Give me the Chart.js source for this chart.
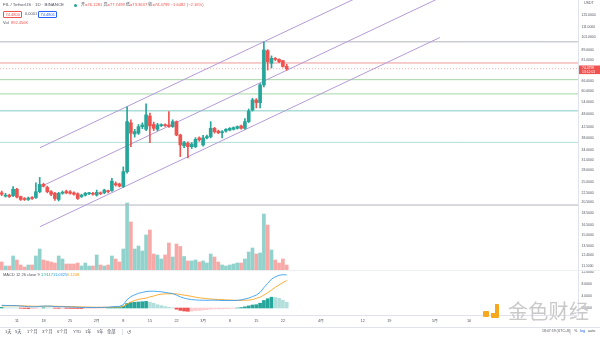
<!DOCTYPE html>
<html>
<head>
<meta charset="utf-8">
<title>FIL / TetherUS 1D</title>
<script src="https://cdn.jsdelivr.net/npm/chart.js@4.4.0/dist/chart.umd.min.js"></script>
<style>
  body { margin:0; width:600px; height:338px; background:#fff; overflow:hidden; position:relative;
         font-family:"Liberation Sans","Noto Sans CJK SC",sans-serif; }
  #pricePane { position:absolute; left:0; top:0; width:600px; height:270px; }
  #macdPane  { position:absolute; left:0; top:270px; width:600px; height:58px; }
  .t { position:absolute; white-space:nowrap; line-height:1; }
  .gray { color:#50535e; }
  .red { color:#ef5350; }
  .box { position:absolute; height:5px; line-height:5px; font-size:4px; padding:0 1.5px; border:0.8px solid; border-radius:1px; }
  .sep { position:absolute; background:#e0e3eb; }
  #wm-text { position:absolute; left:508px; top:300px; font-size:20px; line-height:22px; color:#c9c9c9;
             font-family:"Noto Sans CJK SC",sans-serif; letter-spacing:0.3px; }
  .wm-logo { position:absolute; background:#f5a81c; border-radius:1px; }
</style>
</head>
<body>
<div id="pricePane"><canvas id="priceCanvas"></canvas></div>
<div id="macdPane"><canvas id="macdCanvas"></canvas></div>

<!-- legends -->
<div class="t gray" style="left:3px;top:3px;font-size:4.4px">FIL / TetherUS · 1D · BINANCE</div>
<div style="position:absolute;left:74px;top:3.5px;width:3px;height:3px;border-radius:50%;background:#26a69a"></div>
<div class="t" style="left:81px;top:3px;font-size:4.1px">
  <span class="gray">开</span><span class="red">=76.1281</span>
  <span class="gray">高</span><span class="red">=77.7499</span>
  <span class="gray">低</span><span class="red">=73.3637</span>
  <span class="gray">收</span><span class="red">=74.4799 −1.6482 (−2.16%)</span>
</div>
<div class="box" style="left:3px;top:11px;color:#ef5350;border-color:#ef5350">74.4800</div>
<div class="t gray" style="left:25px;top:12px;font-size:4px">0.0001</div>
<div class="box" style="left:38px;top:11px;color:#2962ff;border-color:#2962ff">74.4801</div>
<div class="t gray" style="left:3px;top:21px;font-size:4px">Vol</div>
<div class="t red" style="left:11px;top:21px;font-size:4px">892.456K</div>
<div class="t gray" style="left:584px;top:2px;font-size:3.6px">USDT</div>

<div class="sep" style="left:0;top:270px;width:600px;height:1px;background:#eceef2"></div>
<div class="t gray" style="left:3px;top:273px;font-size:4px">MACD 12 26 close 9</div>
<div class="t" style="left:41px;top:273px;font-size:4px;color:#26a69a">1.9117</div>
<div class="t" style="left:53px;top:273px;font-size:4px;color:#2196f3">11.0325</div>
<div class="t" style="left:67px;top:273px;font-size:4px;color:#ff9800">9.1208</div>

<!-- bottom toolbar -->
<div class="sep" style="left:0;top:327px;width:600px;height:1px"></div>
<div class="t gray" style="left:5px;top:330px;font-size:4.2px">1天</div>
<div class="t gray" style="left:15px;top:330px;font-size:4.2px">5天</div>
<div class="t gray" style="left:27px;top:330px;font-size:4.2px">1个月</div>
<div class="t gray" style="left:42px;top:330px;font-size:4.2px">3个月</div>
<div class="t gray" style="left:57px;top:330px;font-size:4.2px">6个月</div>
<div class="t gray" style="left:73px;top:330px;font-size:4.2px">YTD</div>
<div class="t gray" style="left:85px;top:330px;font-size:4.2px">1年</div>
<div class="t gray" style="left:97px;top:330px;font-size:4.2px">5年</div>
<div class="t gray" style="left:107px;top:330px;font-size:4.2px">全部</div>
<div class="sep" style="left:122px;top:329px;width:1px;height:6px"></div>
<div class="t gray" style="left:127px;top:329.5px;font-size:5px">↺</div>
<div class="t gray" style="left:542px;top:330px;font-size:3.5px">18:47:59 (UTC+8)</div>
<div class="sep" style="left:570px;top:329px;width:1px;height:6px"></div>
<div class="t gray" style="left:574px;top:330px;font-size:3.8px">%</div>
<div class="t" style="left:580px;top:330px;font-size:3.8px;color:#2962ff">log</div>
<div class="t gray" style="left:588px;top:330px;font-size:3.8px">auto</div>

<!-- watermark -->
<div class="wm-logo" style="left:483px;top:311px;width:6px;height:6px"></div>
<div class="wm-logo" style="left:491px;top:304px;width:8px;height:14px"></div>
<div style="position:absolute;left:491px;top:304px;width:4px;height:9px;background:#fff"></div>
<div id="wm-text">金色财经</div>

<script>
// FIL/USDT daily candles, 7 Jan - 23 Mar (index 0 = 7 Jan)
const opens = [22.5,21.8,22.0,21.9,23.3,21.7,21.3,21.1,21.5,21.5,
  22.75,24.4,23.7,22.75,22.4,21.1,22.4,22.8,22.7,22.5,
  22.3,21.7,22.0,22.3,22.4,22.0,22.5,22.5,22.9,23.0,
  24.6,24.5,23.9,27.6,44.2,39.7,40.0,42.6,41.5,47.2,
  43.5,41.5,43.0,43.4,43.3,42.6,44.7,39.3,35.4,36.3,
  35.1,35.1,38.2,35.7,38.2,38.7,41.9,40.8,40.2,40.8,
  41.2,41.5,41.9,42.9,41.9,44.7,50.0,55.1,53.7,63.7,
  88.6,78.5,82.3,81.5,80.5,76.1281];
const highs = [22.9,22.4,22.2,23.9,23.5,21.8,21.5,21.6,21.7,24.8,
  26.1,24.7,24.0,23.0,22.6,22.6,22.9,23.1,23.0,22.7,
  22.5,22.2,22.6,22.6,22.6,23.1,22.7,23.3,23.1,25.9,
  25.0,24.7,28.9,51.6,45.5,41.5,43.5,44.2,53.1,48.5,
  44.5,44.0,43.8,43.8,49.2,45.5,45.0,39.6,37.0,36.8,
  36.5,38.3,38.6,39.2,39.3,44.7,42.3,41.2,41.0,41.8,
  42.2,42.5,42.9,43.2,46.0,50.5,56.0,55.8,64.5,96.6,
  89.5,84.3,83.0,82.0,80.8,77.7499];
const lows = [21.9,21.6,21.5,21.7,21.4,20.9,20.9,20.9,21.1,21.3,
  22.5,23.8,22.5,21.9,20.9,20.8,22.2,22.3,22.2,22.0,
  21.1,21.5,21.8,22.1,22.0,21.8,22.1,22.3,22.5,22.8,
  24.0,23.8,23.7,27.2,35.1,38.5,39.5,41.8,41.0,36.5,
  41.0,41.0,42.6,42.7,42.3,42.3,39.0,31.9,34.8,31.5,
  34.5,34.8,37.0,35.3,37.8,38.2,40.0,39.8,38.2,40.4,
  40.9,41.2,41.6,41.6,41.6,44.3,49.5,51.0,51.0,62.5,
  73.5,75.0,80.5,79.0,75.5,73.3637];
const closes = [22.2,22.0,21.7,23.3,21.6,21.1,21.1,21.4,21.3,22.75,
  24.4,24.0,22.75,22.2,21.3,22.4,22.6,22.5,22.4,22.2,
  21.3,22.0,22.4,22.4,22.2,22.6,22.3,23.1,22.75,25.2,
  24.3,24.0,27.6,44.7,40.0,40.6,42.6,43.3,47.7,42.9,
  41.9,43.3,43.4,43.0,42.6,44.7,39.3,35.7,36.5,35.1,
  36.0,37.7,37.5,38.2,38.7,41.9,40.6,40.2,40.6,41.5,
  41.9,42.2,42.6,41.9,44.7,49.5,55.1,53.7,63.7,89.2,
  79.7,82.3,81.5,79.7,76.1281,74.4799];
// volume, millions of FIL
const volumes = [1.44,0.72,0.72,2.52,1.80,0.90,0.54,0.90,0.90,2.52,
  3.78,1.80,1.62,1.44,1.26,2.52,1.98,1.08,1.08,1.08,
  1.26,0.72,1.26,0.72,0.72,2.70,0.90,0.72,0.90,2.52,
  1.98,1.44,3.78,12.06,8.64,3.78,4.32,3.42,6.30,7.20,
  2.88,2.70,1.98,2.70,4.86,2.34,4.68,4.23,2.43,1.62,
  1.62,1.80,1.44,1.62,1.26,2.88,2.34,1.44,0.90,0.72,
  0.90,1.08,1.26,1.26,1.98,3.24,3.96,2.88,3.06,10.08,
  8.10,3.60,1.80,1.26,1.98,0.892];
// MACD 12 26 9
const macdLine = [0.9,0.85,0.8,0.8,0.75,0.65,0.55,0.45,0.4,0.4,
  0.55,0.65,0.65,0.6,0.5,0.45,0.42,0.38,0.34,0.3,
  0.25,0.2,0.2,0.18,0.16,0.18,0.18,0.22,0.25,0.4,
  0.5,0.55,1.1,2.8,3.8,4.4,4.9,5.2,5.5,5.6,
  5.6,5.5,5.4,5.2,5.0,4.8,4.3,3.7,3.3,3.0,
  2.8,2.7,2.6,2.6,2.55,2.6,2.6,2.55,2.5,2.5,
  2.5,2.5,2.55,2.7,3.0,3.3,3.8,4.3,5.2,6.8,
  8.2,9.6,10.4,10.9,11.1,11.0325];
const signalLine = [0.7,0.73,0.74,0.75,0.75,0.73,0.7,0.65,0.6,0.56,
  0.56,0.58,0.6,0.6,0.58,0.56,0.53,0.5,0.47,0.44,
  0.4,0.36,0.33,0.3,0.27,0.25,0.24,0.24,0.24,0.27,
  0.32,0.36,0.5,1.3,2.0,2.5,2.9,3.1,3.3,3.7,
  4.0,4.4,4.6,4.7,4.75,4.75,4.7,4.5,4.3,4.1,
  3.85,3.6,3.4,3.25,3.1,3.0,2.9,2.85,2.8,2.7,
  2.65,2.6,2.55,2.55,2.6,2.6,2.8,3.2,3.6,4.3,
  5.1,6.0,6.9,7.7,8.5,9.1208];
const histogram = [0.2,0.12,0.06,0.05,0.0,-0.08,-0.15,-0.2,-0.2,-0.16,
  -0.01,0.07,0.05,0.0,-0.08,-0.11,-0.11,-0.12,-0.13,-0.14,
  -0.15,-0.16,-0.13,-0.12,-0.11,-0.07,-0.06,-0.02,0.01,0.13,
  0.18,0.19,0.6,1.5,1.8,1.9,2.0,2.1,2.2,1.9,
  1.6,1.1,0.8,0.5,0.25,0.05,-0.4,-0.8,-1.0,-1.1,
  -1.05,-0.9,-0.8,-0.65,-0.55,-0.4,-0.3,-0.3,-0.3,-0.2,
  -0.15,-0.1,0.0,0.15,0.4,0.7,1.0,1.1,1.6,2.5,
  3.1,3.6,3.5,3.2,2.6,1.9117];

// drawn horizontal levels
const levels = [96.5, 78.7, 67.0, 58.4, 49.6, 36.6, 20.0];
const levelColors = ['#b2b5be','#ef9a9a','#a5d6a7','#a5d6a7','#80cbc4','#b2dfdb','#b2b5be'];
// parallel channel: [startDay, startPrice, endDay, endPrice]
const channel = [
  [10.08, 34.76, 115.3, 215.6],
  [10.08, 23.8, 115.3, 147.5],
  [10.08, 16.23, 115.3, 100.6]
];

const priceTicks = [125,111,101,89,81,66,60,54,48,42.5,38,34,31,28,25,22.5,20.5,18.5,16.5,15,13.5,12.4,11.1];
const macdTicks = [0,4,8,12];
const dateTickDays = [4,11,18,25,32,39,46,53,60,67,74,84,95,102,114,123];
const dateTickLabels = ['11','18','25','2月','8','15','22','3月','8','15','22','4月','12','19','5月','10'];
const countdown = '13:12:01';

const UP = '#26a69a', DOWN = '#ef5350';
const xMin = -0.4474, xMax = 151.66;
const FONT = '"Liberation Sans","Noto Sans CJK SC",sans-serif';
Chart.defaults.font.family = FONT;

const candleColors = closes.map((c, i) => c >= opens[i] ? UP : DOWN);
const volColors = closes.map((c, i) => c >= opens[i] ? 'rgba(38,166,154,0.5)' : 'rgba(239,83,80,0.5)');
const histColors = histogram.map((h, i) => {
  const prev = i > 0 ? histogram[i - 1] : h;
  if (h >= 0) return h >= prev ? '#26a69a' : '#b2dfdb';
  return h < prev ? '#ef5350' : '#ffcdd2';
});

const fixedWidth = ax => { ax.width = 22; ax.paddingTop = 0; ax.paddingBottom = 0; };

const lastPriceTag = {
  id: 'lastPriceTag',
  afterDraw(chart) {
    const last = closes[closes.length - 1];
    const y = chart.scales.y.getPixelForValue(last);
    const left = chart.chartArea.right + 1;
    const ctx = chart.ctx;
    ctx.save();
    ctx.fillStyle = DOWN;
    ctx.fillRect(left, y - 3.2, chart.width - left, 8.6);
    ctx.fillStyle = '#fff';
    ctx.font = '3.4px ' + FONT;
    ctx.textBaseline = 'middle';
    ctx.fillText(last.toFixed(4), left + 3, y - 0.3);
    ctx.fillText(countdown, left + 3, y + 3.3);
    ctx.restore();
  }
};

const lineDs = (data, color, extra) => Object.assign({
  type: 'line', data, borderColor: color, borderWidth: 1, pointRadius: 0, yAxisID: 'y', order: 4
}, extra || {});

new Chart(document.getElementById('priceCanvas'), {
  type: 'bar',
  data: {
    datasets: [
      { type: 'bar', data: volumes.map((v, i) => ({ x: i, y: v })), yAxisID: 'yVol',
        backgroundColor: volColors, barThickness: 3, grouped: false, order: 6 },
      ...levels.map((lv, i) => lineDs([{ x: xMin, y: lv }, { x: xMax, y: lv }], levelColors[i])),
      lineDs([{ x: xMin, y: closes[closes.length - 1] }, { x: xMax, y: closes[closes.length - 1] }],
             'rgba(239,83,80,0.45)', { borderDash: [1, 2], order: 3 }),
      ...channel.map(c => lineDs([{ x: c[0], y: c[1] }, { x: c[2], y: c[3] }], '#b49bd8', { order: 3 })),
      { type: 'bar', data: lows.map((l, i) => ({ x: i, y: [l, highs[i]] })), yAxisID: 'y',
        backgroundColor: candleColors, barThickness: 1, grouped: false, order: 2 },
      { type: 'bar', data: opens.map((o, i) => ({ x: i, y: [o, closes[i]] })), yAxisID: 'y',
        backgroundColor: candleColors, barThickness: 3, minBarLength: 1, grouped: false, order: 1 }
    ]
  },
  options: {
    responsive: true, maintainAspectRatio: false, animation: false,
    layout: { padding: 0 },
    plugins: { legend: { display: false }, tooltip: { enabled: false } },
    scales: {
      x: { type: 'linear', min: xMin, max: xMax, offset: false, display: false },
      y: {
        type: 'logarithmic', position: 'right', min: 10.69, max: 144.45, bounds: 'data',
        grid: { display: false, drawTicks: false },
        border: { display: true, color: '#e0e3eb' },
        ticks: { autoSkip: false, padding: 3.5, color: '#50535e', font: { size: 3.4 },
                 callback: v => Number(v).toFixed(4) },
        afterBuildTicks: ax => { ax.ticks = priceTicks.map(v => ({ value: v })); },
        afterFit: fixedWidth
      },
      yVol: { type: 'linear', display: false, min: 0, max: 48.6 }
    }
  },
  plugins: [lastPriceTag]
});

new Chart(document.getElementById('macdCanvas'), {
  type: 'bar',
  data: {
    datasets: [
      { type: 'line', data: macdLine.map((v, i) => ({ x: i, y: v })), borderColor: '#2196f3',
        borderWidth: 0.8, pointRadius: 0, order: 1 },
      { type: 'line', data: signalLine.map((v, i) => ({ x: i, y: v })), borderColor: '#ff9800',
        borderWidth: 0.8, pointRadius: 0, order: 2 },
      { type: 'bar', data: histogram.map((v, i) => ({ x: i, y: v })), backgroundColor: histColors,
        barThickness: 3, grouped: false, order: 3 }
    ]
  },
  options: {
    responsive: true, maintainAspectRatio: false, animation: false,
    layout: { padding: 0 },
    plugins: { legend: { display: false }, tooltip: { enabled: false } },
    scales: {
      x: {
        type: 'linear', min: xMin, max: xMax, offset: false,
        grid: { display: false, drawTicks: false },
        border: { display: true, color: '#e0e3eb' },
        ticks: { autoSkip: false, maxRotation: 0, padding: 4, color: '#50535e', font: { size: 3.8 },
                 callback: (v, i) => dateTickLabels[i] },
        afterBuildTicks: ax => { ax.ticks = dateTickDays.map(v => ({ value: v })); },
        afterFit: ax => { ax.height = 13; ax.paddingLeft = 0; ax.paddingRight = 0; }
      },
      y: {
        type: 'linear', position: 'right', min: -2.333, max: 12.667,
        grid: { display: false, drawTicks: false },
        border: { display: true, color: '#e0e3eb' },
        ticks: { autoSkip: false, padding: 3.5, color: '#50535e', font: { size: 3.4 },
                 callback: v => Number(v).toFixed(4) },
        afterBuildTicks: ax => { ax.ticks = macdTicks.map(v => ({ value: v })); },
        afterFit: fixedWidth
      }
    }
  }
});
</script>
</body>
</html>
